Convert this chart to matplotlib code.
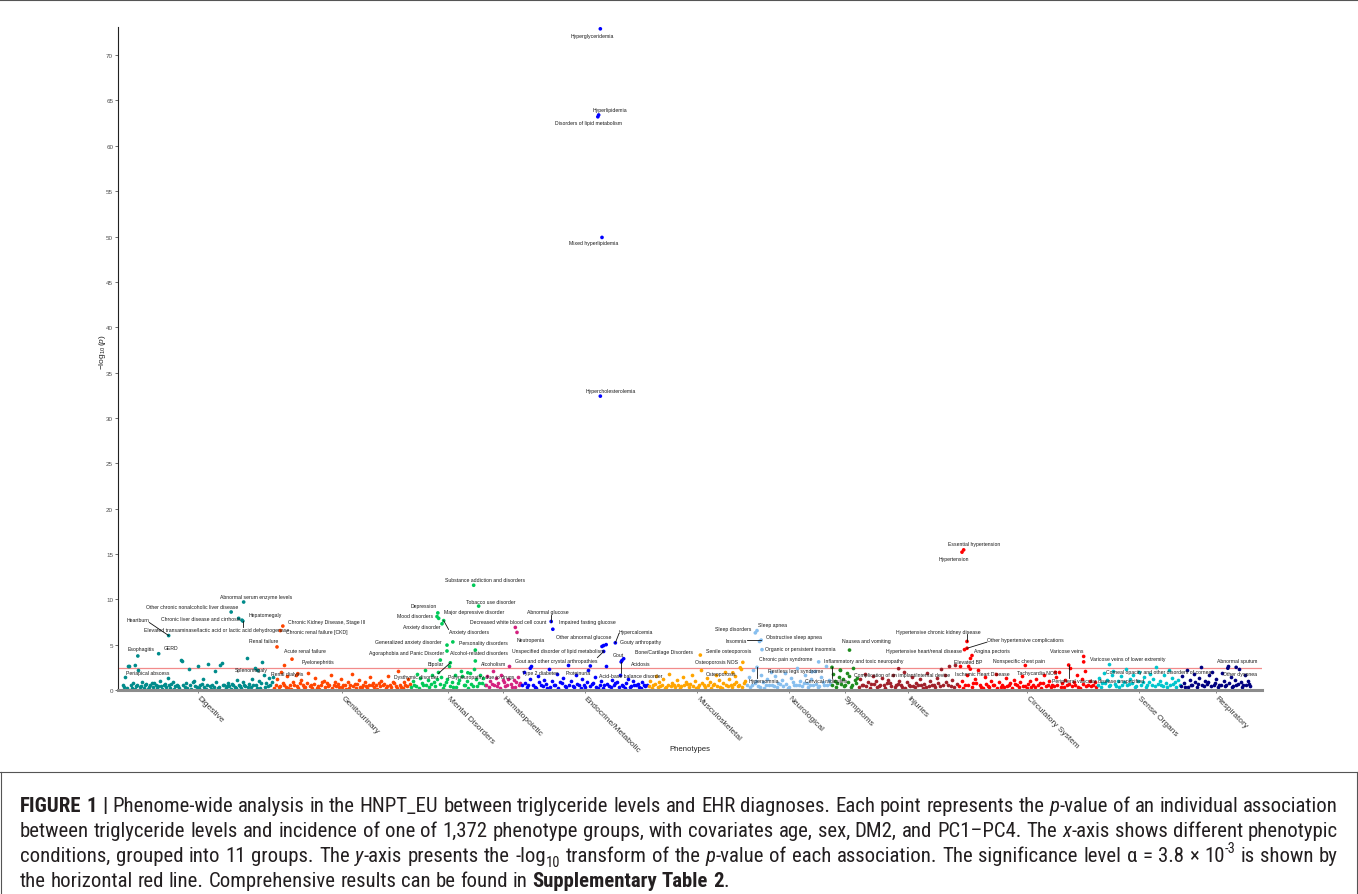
import re
import matplotlib
matplotlib.use("Agg")
import matplotlib.pyplot as plt
from matplotlib import font_manager
from matplotlib.lines import Line2D
import numpy as np

plt.rcParams['font.family'] = ['Liberation Sans', 'DejaVu Sans']
plt.rcParams['mathtext.fontset'] = 'custom'
plt.rcParams['mathtext.rm'] = 'Liberation Sans'
plt.rcParams['mathtext.it'] = 'Liberation Sans:italic'
plt.rcParams['mathtext.bf'] = 'Liberation Sans:bold'

# ---------------- data ----------------
groups = ['Digestive', 'Genitourinary', 'Mental Disorders', 'Hematopoietic',
          'Endocrine/Metabolic', 'Musculoskeletal', 'Neurological', 'Symptoms',
          'Injuries', 'Circulatory System', 'Sense Organs', 'Respiratory']
group_sizes = [182, 164, 90, 43, 152, 118, 102, 32, 120, 167, 100, 85]
group_colors = ['#008B8B', '#FF4500', '#00C957', '#D4207F', '#0000FF', '#FFA500',
                '#87BFEF', '#1E8B1E', '#A0202A', '#FF0000', '#00C5CD', '#000080']

# -log10(p) of the non-labelled phenotypes, in phenotype order within each group
dig_bg = [0.5, 0.3, 1.4, 0.2, 2.7, 2.6, 0.6, 0.2, 0.8, 0.1, 0.4, 0.6, 2.2, 0.3, 0.4, 0.9,
          0.2, 0.5, 0.7, 0.1, 0.3, 0.5, 0.8, 0.3, 0.8, 0.6, 0.2, 0.4, 1.0, 0.4, 0.1, 0.6,
          0.7, 0.3, 1.3, 0.5, 0.2, 0.7, 0.9, 0.1, 0.4, 0.6, 0.4, 0.2, 3.3, 3.2, 0.5, 0.3,
          0.8, 0.2, 2.3, 0.5, 0.1, 0.9, 1.0, 0.4, 0.3, 2.6, 0.2, 0.6, 0.7, 1.2, 0.3, 0.1,
          0.5, 2.9, 0.4, 0.1, 0.6, 0.3, 2.1, 0.9, 0.2, 0.3, 2.8, 3.0, 0.6, 0.5, 0.2, 0.4,
          0.8, 0.4, 0.1, 0.7, 0.6, 0.3, 0.2, 1.1, 0.5, 0.4, 0.2, 0.9, 0.6, 0.4, 3.5, 0.3,
          0.7, 0.3, 1.2, 0.5, 2.4, 0.6, 0.2, 1.0, 0.2, 0.8, 3.1, 1.6, 0.3, 0.8, 0.4, 1.3,
          0.6, 0.9, 1.4]
gen_bg = [0.2, 0.6, 1.2, 0.3, 0.4, 2.0, 0.8, 0.5, 0.3, 1.5, 0.2, 0.5, 0.1, 0.9, 0.6, 1.7,
          0.4, 0.2, 0.8, 1.1, 0.6, 0.3, 0.3, 0.8, 1.9, 0.4, 0.5, 0.2, 0.7, 1.3, 0.2, 0.4,
          0.1, 0.6, 0.9, 1.0, 0.3, 0.8, 0.4, 0.5, 1.6, 0.2, 0.6, 0.9, 0.4, 0.7, 0.3, 1.2,
          0.3, 0.6, 0.5, 0.1, 0.9, 0.2, 0.5, 1.8, 0.4, 0.7, 0.2, 0.7, 1.1, 0.3, 0.3, 0.6,
          0.9, 0.4, 0.2, 0.5, 1.4, 0.6, 0.8, 0.3, 0.6, 0.1, 0.8, 0.4, 1.0, 0.5, 0.7, 0.2,
          0.4, 1.5, 0.5, 0.3, 0.9, 0.8, 0.4, 0.2, 2.1, 0.6, 0.3, 0.2, 0.9, 0.5, 0.4, 1.2,
          0.7]
men_bg = [0.3, 1.0, 0.6, 0.4, 1.8, 0.2, 1.3, 0.8, 0.5, 2.2, 0.5, 1.1, 0.3, 0.7, 1.6, 0.9,
          0.4, 1.2, 2.0, 0.7, 1.4, 0.2, 0.6, 0.9, 1.2, 2.6, 0.4, 0.9, 0.3, 1.7, 0.3, 0.8,
          1.1, 2.1, 1.5, 0.5, 0.6, 1.0, 0.2, 1.9, 0.7, 0.4, 2.3, 1.2, 0.4, 0.8, 1.6, 0.8,
          1.3, 0.5]
hem_bg = [0.6, 1.5, 0.3, 1.0, 0.7, 2.1, 0.5, 1.3, 0.4, 0.8, 0.2, 1.7, 1.1, 0.9, 0.4, 0.6,
          1.2, 2.6, 0.7, 0.3, 1.1, 0.3, 0.9, 1.4, 0.5, 0.8]
end_bg = [0.5, 2.0, 0.8, 0.3, 0.6, 1.2, 2.7, 0.6, 0.3, 0.2, 1.5, 0.9, 0.5, 0.4, 1.1, 0.7,
          0.2, 2.3, 0.3, 1.0, 0.6, 0.5, 1.8, 0.2, 0.9, 0.8, 1.3, 0.4, 0.3, 2.8, 0.6, 1.0,
          0.4, 0.3, 1.6, 0.7, 0.5, 0.2, 1.2, 0.5, 0.3, 0.9, 2.2, 0.4, 0.7, 0.8, 1.4, 0.3,
          0.2, 0.6, 1.0, 0.2, 0.5, 2.6, 0.7, 0.4, 0.3, 1.1, 0.5, 0.8, 0.9, 0.3, 1.7, 0.6,
          0.4, 0.2, 0.8, 1.2, 0.3, 0.4, 1.0, 0.5, 0.6, 0.7, 0.3, 0.2, 0.9, 0.6, 0.4, 0.5]
mus_bg = [0.4, 1.0, 0.2, 0.6, 0.7, 1.5, 0.3, 0.9, 0.4, 0.5, 1.2, 0.2, 0.3, 0.6, 1.8, 0.4,
          0.8, 0.5, 0.3, 1.1, 0.6, 0.2, 0.4, 1.4, 0.5, 0.9, 0.7, 0.3, 0.7, 1.7, 0.4, 1.0,
          0.2, 0.3, 0.6, 2.2, 0.8, 0.5, 0.3, 1.3, 0.5, 0.9, 0.2, 0.6, 0.7, 1.6, 0.4, 1.1,
          0.3, 0.2, 0.8, 2.0, 0.5, 0.4, 1.2, 0.6, 0.3, 0.7, 1.5, 0.9, 0.4, 0.5, 2.3, 0.3,
          0.8, 1.0]
neu_bg = [0.6, 1.4, 0.3, 0.5, 2.2, 0.8, 1.0, 0.4, 0.3, 1.7, 0.9, 0.2, 0.6, 1.2, 0.6, 2.0,
          0.5, 0.4, 1.5, 0.3, 0.8, 0.7, 1.1, 0.4, 1.9, 0.7, 0.2, 0.3, 1.3, 0.9, 0.5, 0.5,
          2.4, 0.6, 1.0, 0.4, 0.8, 1.6, 0.8, 0.3, 0.6, 1.2, 0.5, 2.1, 0.7, 0.3, 0.4, 1.4,
          0.9, 0.5, 2.6, 0.6, 1.1, 0.7]
sym_bg = [0.5, 1.8, 1.0, 0.3, 0.8, 1.4, 2.2, 0.7, 1.2, 0.4, 0.6, 1.9, 0.9, 1.5, 0.3, 0.6,
          2.4, 1.1, 0.8, 1.3]
inj_bg = [0.3, 1.2, 0.6, 0.5, 1.8, 0.4, 0.9, 0.2, 0.7, 1.5, 0.7, 1.0, 0.3, 0.4, 0.6, 1.3,
          0.5, 0.2, 0.8, 1.1, 0.8, 0.4, 1.6, 0.3, 0.5, 0.7, 1.0, 0.5, 0.3, 2.0, 0.2, 0.9,
          0.6, 0.4, 1.4, 0.4, 0.3, 0.8, 0.6, 1.2, 0.5, 0.2, 0.7, 0.3, 1.9, 0.4, 1.0, 0.6,
          0.5, 0.3, 1.3, 0.8, 0.4, 2.3, 0.5, 1.7, 0.9, 0.6, 2.6, 0.4, 1.1, 0.3, 2.8, 0.7]
cir_bg = [0.4, 2.7, 1.0, 0.2, 0.5, 1.6, 0.6, 3.5, 0.3, 0.8, 1.2, 0.8, 2.2, 0.5, 0.3, 0.2,
          1.4, 0.7, 0.4, 0.3, 1.0, 0.5, 0.6, 1.8, 0.2, 0.9, 0.3, 0.6, 0.3, 1.3, 0.4, 0.5,
          0.8, 0.2, 1.1, 0.7, 0.6, 0.3, 0.9, 1.5, 0.4, 0.4, 0.2, 0.7, 1.0, 0.3, 0.5, 0.3,
          1.2, 0.6, 0.8, 0.2, 0.8, 1.7, 0.4, 0.5, 1.0, 0.3, 0.6, 0.4, 1.4, 0.5, 2.0, 0.3,
          0.8, 0.3, 1.1, 0.6, 0.7, 2.4, 0.4, 0.9, 0.5, 1.6, 0.3, 0.2, 1.2, 0.7, 2.1, 0.4,
          0.5, 1.0, 0.4, 0.6, 0.9, 0.3]
sen_bg = [0.6, 1.3, 0.3, 0.8, 1.9, 0.8, 1.1, 0.4, 0.5, 1.6, 2.1, 0.7, 0.4, 1.0, 0.3, 1.5,
          0.6, 0.9, 2.3, 0.5, 0.7, 1.2, 0.8, 1.7, 0.3, 0.4, 1.0, 2.0, 0.6, 0.9, 1.4, 0.3,
          0.5, 0.9, 1.8, 0.5, 1.2, 0.4, 2.5, 0.7, 1.0, 0.6, 0.4, 1.6, 0.8, 0.3, 2.2, 0.5,
          1.3, 0.7, 0.9, 0.3, 1.1, 0.6]
res_bg = [0.4, 1.5, 0.8, 0.3, 2.2, 0.3, 1.1, 0.6, 0.5, 1.8, 0.9, 0.3, 0.7, 1.3, 2.5, 0.5,
          0.4, 1.0, 0.7, 0.9, 1.6, 0.4, 2.0, 0.6, 0.8, 1.2, 0.3, 0.5, 0.6, 1.9, 1.0, 0.4,
          0.5, 2.7, 0.8, 1.4, 0.3, 0.4, 1.1, 0.6, 0.7, 2.3, 0.9, 0.3, 0.5, 1.7, 0.5, 1.0,
          0.7, 0.4]
background = [dig_bg, gen_bg, men_bg, hem_bg, end_bg, mus_bg,
              neu_bg, sym_bg, inj_bg, cir_bg, sen_bg, res_bg]

# labelled phenotypes: name, position in phenotype order, -log10(p)
hit_names = [
    'Heartburn', 'Esophagitis', 'GERD', 'Periapical abscess',
    'Other chronic nonalcoholic liver disease', 'Abnormal serum enzyme levels',
    'Chronic liver disease and cirrhosis', 'Hepatomegaly',
    'Elevated transaminase/lactic acid or lactic acid dehydrogenase', 'Splenomegaly',
    'Chronic Kidney Disease, Stage III', 'Chronic renal failure [CKD]', 'Renal failure',
    'Acute renal failure', 'Pyelonephritis', 'Renal dialysis',
    'Depression', 'Mood disorders', 'Major depressive disorder', 'Anxiety disorder',
    'Anxiety disorders', 'Generalized anxiety disorder', 'Personality disorders',
    'Agoraphobia and Panic Disorder', 'Alcohol-related disorders', 'Alcoholism', 'Bipolar',
    'Dysthymic disorder', 'Polyneuropathy due to drugs', 'Substance addiction and disorders',
    'Tobacco use disorder',
    'Decreased white blood cell count', 'Neutropenia',
    'Abnormal glucose', 'Impaired fasting glucose', 'Other abnormal glucose', 'Hypercalcemia',
    'Gouty arthropathy', 'Unspecified disorder of lipid metabolism',
    'Gout and other crystal arthropathies', 'Gout', 'Acidosis', 'Acid-base balance disorder',
    'Type 2 diabetes', 'Proteinuria', 'Hyperglyceridemia', 'Hyperlipidemia',
    'Disorders of lipid metabolism', 'Mixed hyperlipidemia', 'Hypercholesterolemia',
    'Bone/Cartilage Disorders', 'Senile osteoporosis', 'Osteoporosis NOS', 'Osteoporosis',
    'Sleep disorders', 'Sleep apnea', 'Obstructive sleep apnea', 'Insomnia',
    'Organic or persistent insomnia', 'Chronic pain syndrome', 'Restless legs syndrome',
    'Hypersomnia', 'Cervical radiculitis',
    'Nausea and vomiting', 'Inflammatory and toxic neuropathy',
    'Complication of an implant/internal device',
    'Essential hypertension', 'Hypertension', 'Hypertensive chronic kidney disease',
    'Other hypertensive complications', 'Hypertensive heart/renal disease', 'Angina pectoris',
    'Elevated BP', 'Nonspecific chest pain', 'Ischemic Heart Disease', 'Tachycardia NOS',
    'Varicose veins', 'Varicose veins of lower extremity',
    'Peripheral vascular disease unspecified',
    'Corneal opacity and other disorders of cornea',
    'Abnormal sputum', 'Other dyspnea']
hit_pos = [56, 19, 44, 16, 131, 146, 140, 144, 145, 163,
           193, 190, 186, 204, 195, 211,
           379, 378, 380, 384, 386, 390, 397, 390, 424, 424, 382, 394, 415, 422, 428,
           472, 474,
           515, 517, 578, 592, 581, 576, 578, 600, 602, 599, 490, 562, 574, 572, 571, 576, 574,
           694, 745, 742, 733,
           760, 762, 765, 767, 768, 836, 828, 762, 852,
           873, 862, 932,
           1010, 1008, 1014, 1014, 1011, 1020, 1016, 1084, 1018, 1120, 1154, 1154, 1136,
           1185, 1337, 1327]
hit_vals = [6.0, 3.75, 4.0, 2.7, 8.6, 9.7, 7.9, 7.7, 7.6, 2.15,
            7.05, 6.55, 4.75, 3.4, 2.7, 1.8,
            8.5, 8.1, 7.9, 7.3, 7.65, 4.95, 5.3, 4.3, 4.4, 3.2, 3.3, 3.0, 1.9, 11.55, 9.25,
            6.9, 6.35,
            7.55, 6.7, 4.9, 5.2, 5.0, 4.8, 4.25, 3.25, 3.45, 3.1, 2.4, 2.65, 72.9, 63.4, 63.2,
            49.9, 32.4,
            3.85, 3.05, 2.45, 1.9,
            6.3, 6.55, 5.35, 5.5, 4.45, 3.1, 2.0, 2.5, 2.5,
            4.4, 2.2, 2.35,
            15.45, 15.2, 5.35, 4.6, 4.45, 3.8, 2.6, 2.7, 2.3, 1.95, 3.7, 3.1, 2.75,
            2.8, 2.5, 2.4]
alpha = 3.8e-3

# label placement (layout, same order as hit_names)
label_xy = [(19, 7.72), (23, 4.63), (59, 4.74), (31, 1.98), (84, 9.26), (161, 10.36),
            (94, 7.83), (172, 8.27), (113, 6.62), (155, 2.3),
            (246, 7.5), (234, 6.4), (170, 5.5), (220, 4.3), (235, 3.09), (198, 1.87),
            (362, 9.37), (352, 8.16), (422, 8.6), (360, 6.95), (416, 6.4), (344, 5.3),
            (434, 5.2), (341, 4.08), (429, 4.08), (446, 2.87), (377, 2.87), (353, 1.54),
            (431, 1.54), (436, 12.16), (442, 9.81),
            (463, 7.5), (491, 5.62),
            (511, 8.6), (558, 7.5), (554, 5.95), (617, 6.5), (622, 5.3), (523, 4.41),
            (521, 3.3), (595, 3.86), (623, 2.87), (610, 1.65), (502, 1.98), (548, 1.98),
            (564, 72.2), (586, 64.0), (560, 62.6), (566, 49.3), (587, 33.0),
            (650, 4.19), (728, 4.3), (713, 3.09), (719, 1.87),
            (733, 6.73), (781, 7.17), (806, 5.95), (737, 5.51), (814, 4.63), (797, 3.42),
            (808, 2.2), (770, 1.1), (845, 1.1),
            (893, 5.51), (890, 3.2), (936, 1.76),
            (1023, 16.1), (998, 14.55), (980, 6.4), (1084, 5.55), (962, 4.41), (1044, 4.41),
            (1015, 3.12), (1076, 3.2), (1032, 1.87), (1098, 1.98), (1134, 4.41),
            (1207, 3.42), (1171, 1.03),
            (1244, 2.09), (1338, 3.3), (1342, 1.87)]
# labels that ggrepel joined to their point with a segment
seg_names = {'Heartburn', 'Elevated transaminase/lactic acid or lactic acid dehydrogenase',
             'Anxiety disorders', 'Dysthymic disorder', 'Abnormal glucose', 'Hypercalcemia',
             'Gout and other crystal arthropathies', 'Acid-base balance disorder', 'Insomnia',
             'Hypersomnia', 'Cervical radiculitis', 'Hypertensive chronic kidney disease',
             'Other hypertensive complications', 'Peripheral vascular disease unspecified'}

# ---------------- figure ----------------
W, H = 1358, 895
fig = plt.figure(figsize=(W / 100, H / 100), dpi=100)
ax = fig.add_axes([118 / W, (H - 691) / H, 1144 / W, 663 / H])

bounds = np.concatenate([[0], np.cumsum(group_sizes)])
centers = (bounds[:-1] + bounds[1:]) / 2

for g, vals in enumerate(background):
    n = len(vals)
    xs = bounds[g] + (np.arange(n) + 0.5) * group_sizes[g] / n
    ax.scatter(xs, vals, s=7, color=group_colors[g], linewidths=0, clip_on=False, zorder=2)

hit_group = np.searchsorted(bounds, hit_pos, side='right') - 1
hit_cols = [group_colors[g] for g in hit_group]
ax.scatter(hit_pos, hit_vals, s=7, color=hit_cols, linewidths=0, clip_on=False, zorder=3)

ax.axhline(-np.log10(alpha), color='#F28B8B', lw=0.9, zorder=1)

ax.set_xlim(-4.8, 1368)
ax.set_ylim(0, 73.1)
ax.set_yticks(range(0, 71, 5))
ax.tick_params(axis='y', labelsize=4.5, length=2, width=0.5, pad=1.5,
               color='#333333', labelcolor='#4D4D4D')
ax.set_xticks(centers)
ax.set_xticklabels(groups, rotation=-45, ha='left', va='center', rotation_mode='anchor',
                   fontsize=6, color='#333333')
ax.tick_params(axis='x', length=2, width=0.5, pad=3, color='#555555')
for s in ['top', 'right']:
    ax.spines[s].set_visible(False)
ax.spines['left'].set_color('#222222')
ax.spines['left'].set_linewidth(0.8)
ax.spines['bottom'].set_color('#8C8C8C')
ax.spines['bottom'].set_linewidth(2.2)

fig.text(103 / W, 1 - 352 / H, r'$-\log_{10}(\mathit{p})$', rotation=90,
         ha='center', va='center', fontsize=6, color='#222222')
fig.text(690 / W, 1 - 750 / H, 'Phenotypes', ha='center', va='center',
         fontsize=5.6, color='#222222')

labels = []
for name, (lx, ly) in zip(hit_names, label_xy):
    labels.append(ax.text(lx, ly, name, fontsize=3.7, ha='center', va='center',
                          color='#1A1A1A', zorder=4))

fig.canvas.draw()
renderer = fig.canvas.get_renderer()
inv = ax.transData.inverted()
for t, name, x, y in zip(labels, hit_names, hit_pos, hit_vals):
    if name not in seg_names:
        continue
    bb = t.get_window_extent(renderer)
    px, py = ax.transData.transform((x, y))
    qx = min(max(px, bb.x0), bb.x1)
    qy = min(max(py, bb.y0), bb.y1)
    (ax0, ay0), (ax1, ay1) = inv.transform([(qx, qy), (px, py)])
    ax.plot([ax0, ax1], [ay0, ay1], color='#111111', lw=0.6, zorder=3.5, clip_on=False)

# ---------------- frame ----------------
frame = dict(transform=fig.transFigure, color='#555555', lw=0.8)
fig.add_artist(Line2D([0, 1], [1 - 0.5 / H, 1 - 0.5 / H], **frame))
fig.add_artist(Line2D([0, 1], [1 - 773 / H, 1 - 773 / H], **frame))
fig.add_artist(Line2D([0.5 / W, 0.5 / W], [0, 1 - 773 / H], **frame))
fig.add_artist(Line2D([1 - 1.5 / W, 1 - 1.5 / W], [0, 1 - 773 / H], **frame))

# ---------------- caption ----------------
names = {f.name for f in font_manager.fontManager.ttflist}
cap_family = next(f for f in ['Liberation Sans Narrow', 'Roboto Condensed',
                              'Open Sans Condensed', 'Liberation Sans'] if f in names)

cap_lines = [
    "**FIGURE** **1** **|** Phenome-wide analysis in the HNPT_EU between triglyceride levels "
    "and EHR diagnoses. Each point represents the *p*-value of an individual association",
    "between triglyceride levels and incidence of one of 1,372 phenotype groups, with "
    "covariates age, sex, DM2, and PC1–PC4. The *x*-axis shows different phenotypic",
    "conditions, grouped into 11 groups. The *y*-axis presents the -log_{10} transform of "
    "the *p*-value of each association. The significance level α = 3.8 × 10^{-3} is shown by",
    "the horizontal red line. Comprehensive results can be found in "
    "**Supplementary** **Table** **2**.",
]
cap_baselines = [812, 837, 862, 887]
cap_justify = [True, True, True, False]
cap_left, cap_right = 20, 1338
line1_natural = 1302


def split_pieces(word):
    out = []
    for part in re.split(r'(\*\*.+?\*\*|\*.+?\*|_\{.+?\}|\^\{.+?\})', word):
        if not part:
            continue
        if part.startswith('**'):
            out.append((part[2:-2], 'bold'))
        elif part.startswith('*'):
            out.append((part[1:-1], 'italic'))
        elif part.startswith('_{'):
            out.append((part[2:-1], 'sub'))
        elif part.startswith('^{'):
            out.append((part[2:-1], 'sup'))
        else:
            out.append((part, 'normal'))
    return out


def make_piece(s, kind, fs):
    size = fs * 0.7 if kind in ('sub', 'sup') else fs
    return fig.text(0, 0, s, fontsize=size, family=[cap_family, 'DejaVu Sans'],
                    fontweight='bold' if kind == 'bold' else 'normal',
                    style='italic' if kind == 'italic' else 'normal',
                    color='#231F20', va='baseline', ha='left')


def width_of(t):
    return t.get_window_extent(renderer).width


def build_line(line, fs):
    words = []
    for w in line.split(' '):
        ps = []
        for s, kind in split_pieces(w):
            t = make_piece(s, kind, fs)
            ps.append((t, kind, width_of(t)))
        words.append(ps)
    return words


def space_width(fs):
    a = fig.text(0, 0, 'x x', fontsize=fs, family=cap_family)
    b = fig.text(0, 0, 'xx', fontsize=fs, family=cap_family)
    w = width_of(a) - width_of(b)
    a.remove()
    b.remove()
    return w


def remove_line(words):
    for ps in words:
        for t, _, _ in ps:
            t.remove()


# calibrate caption size so that the first line fills the column
fs = 10.0
test = build_line(cap_lines[0], fs)
natural = sum(sum(p[2] for p in ps) for ps in test) + space_width(fs) * (len(test) - 1)
remove_line(test)
fs = fs * line1_natural / natural

for line, base, just in zip(cap_lines, cap_baselines, cap_justify):
    words = build_line(line, fs)
    widths = [sum(p[2] for p in ps) for ps in words]
    if just:
        gap = (cap_right - cap_left - sum(widths)) / (len(words) - 1)
    else:
        gap = space_width(fs)
    x = cap_left
    for ps, wsum in zip(words, widths):
        cx = x
        for t, kind, w in ps:
            dy = -0.25 * fs if kind == 'sub' else (0.42 * fs if kind == 'sup' else 0)
            t.set_position((cx / W, 1 - (base - dy * 100 / 72) / H))
            cx += w
        x += wsum + gap

fig.savefig('out.png', dpi=100)
